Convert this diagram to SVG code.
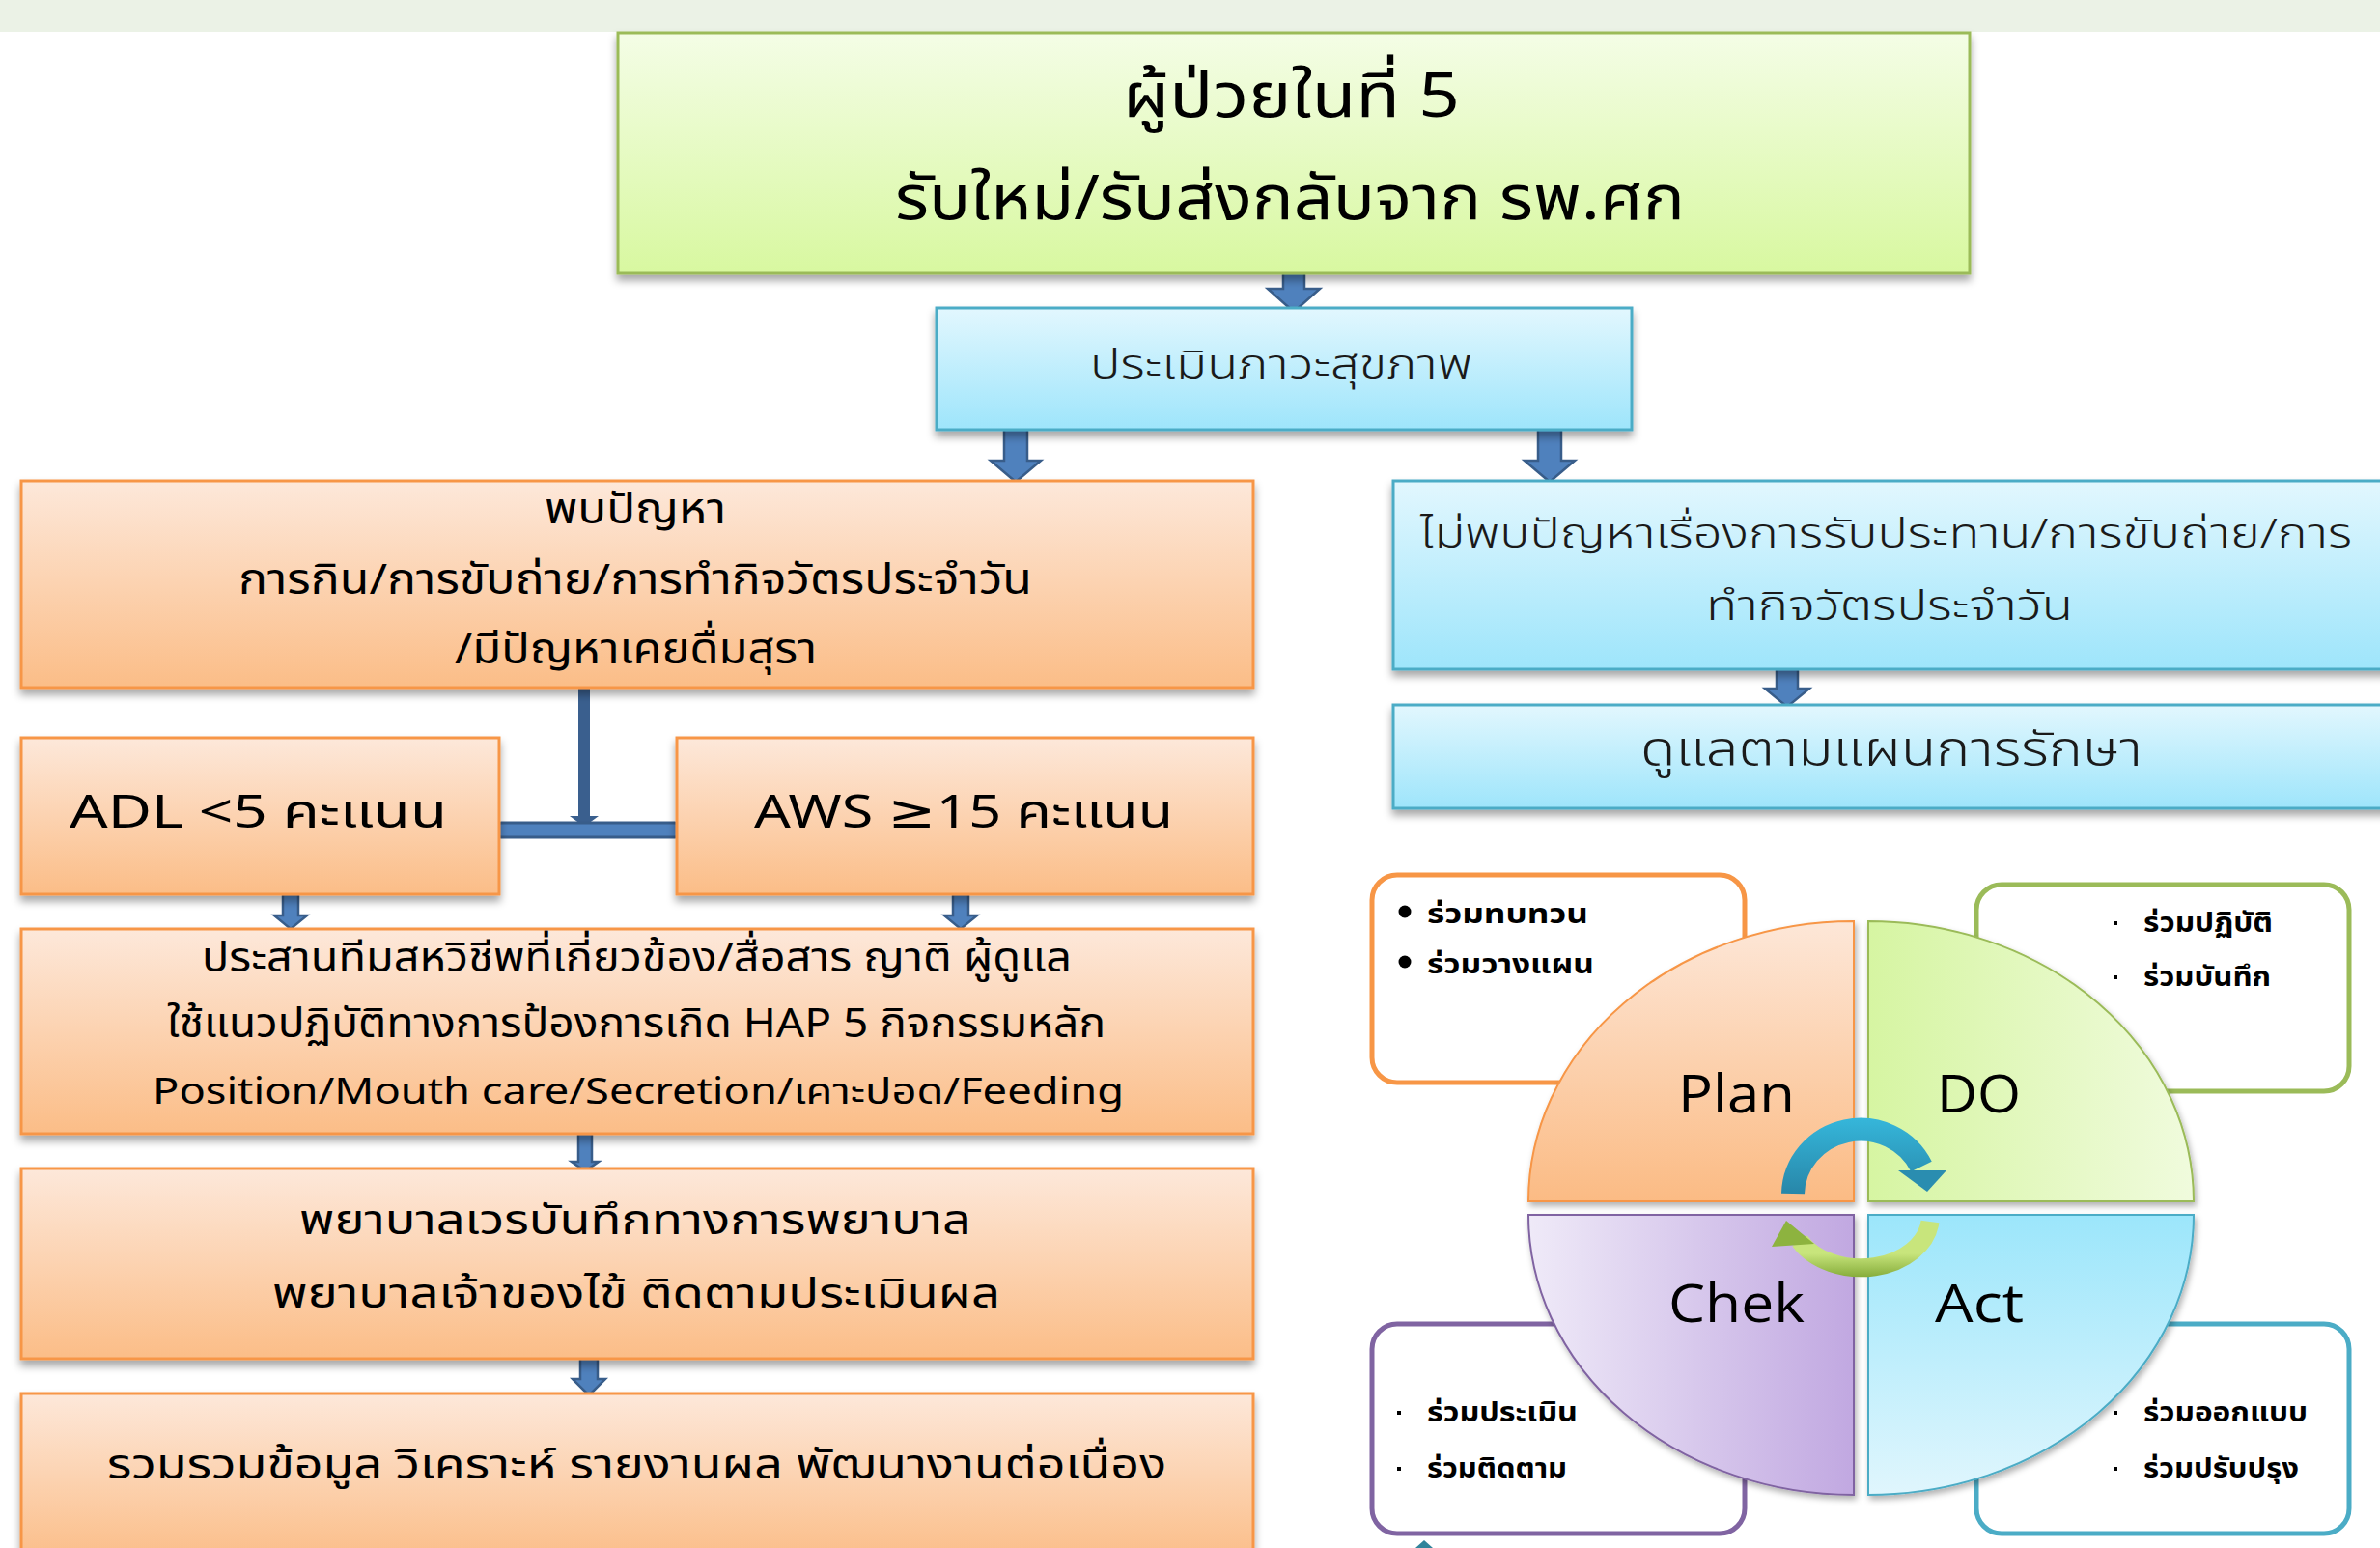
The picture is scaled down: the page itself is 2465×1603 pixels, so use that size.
<svg xmlns="http://www.w3.org/2000/svg" width="2465" height="1603" viewBox="0 0 2465 1603">
<defs>
<linearGradient id="gGreen" x1="0" y1="0" x2="0" y2="1"><stop offset="0" stop-color="#F4FDE6"/><stop offset="1" stop-color="#D8F8A0"/></linearGradient>
<linearGradient id="gBlue" x1="0" y1="0" x2="0" y2="1"><stop offset="0" stop-color="#E2F7FE"/><stop offset="1" stop-color="#9EE5FB"/></linearGradient>
<linearGradient id="gOrange" x1="0" y1="0" x2="0" y2="1"><stop offset="0" stop-color="#FDE8DA"/><stop offset="1" stop-color="#FBBD87"/></linearGradient>
<linearGradient id="qPlan" x1="0" y1="0" x2="0" y2="1"><stop offset="0" stop-color="#FDE7D8"/><stop offset="1" stop-color="#FBBB84"/></linearGradient>
<linearGradient id="qDo" x1="0" y1="0" x2="1" y2="0"><stop offset="0" stop-color="#D6F5A2"/><stop offset="1" stop-color="#F0FBDD"/></linearGradient>
<linearGradient id="qChk" x1="0" y1="0" x2="1" y2="0"><stop offset="0" stop-color="#EFEAF8"/><stop offset="1" stop-color="#C1A8E1"/></linearGradient>
<linearGradient id="qAct" x1="0" y1="0" x2="0" y2="1"><stop offset="0" stop-color="#9CE6FB"/><stop offset="1" stop-color="#E0F6FD"/></linearGradient>
<linearGradient id="arcBlue" gradientUnits="userSpaceOnUse" x1="0" y1="1160" x2="0" y2="1240"><stop offset="0" stop-color="#35B5D9"/><stop offset="1" stop-color="#2784A6"/></linearGradient>
<linearGradient id="arcGreen" gradientUnits="userSpaceOnUse" x1="0" y1="1298" x2="0" y2="1326"><stop offset="0" stop-color="#C8E57C"/><stop offset="1" stop-color="#7CA431"/></linearGradient>
<filter id="sh" x="-5%" y="-10%" width="110%" height="130%"><feDropShadow dx="0" dy="6" stdDeviation="4" flood-color="#000" flood-opacity="0.35"/></filter>
<filter id="sh2" x="-10%" y="-10%" width="120%" height="130%"><feDropShadow dx="2" dy="4" stdDeviation="3" flood-color="#000" flood-opacity="0.3"/></filter>
</defs>
<style>
.th{font-family:'Noto Sans Thai','Noto Sans','DejaVu Sans',sans-serif;fill:#000}
.thin{font-family:'Noto Sans Thai','Noto Sans','DejaVu Sans',sans-serif;fill:#1a1a1a;font-weight:300}
.lat{font-family:'Open Sans','Liberation Sans',sans-serif;fill:#000}
.og{fill:url(#gOrange);stroke:#F79646;stroke-width:3;filter:url(#sh)}
.bl{fill:url(#gBlue);stroke:#4BACC6;stroke-width:3;filter:url(#sh)}
.ar{fill:#4F81BD;stroke:#385D8A;stroke-width:2.5;stroke-linejoin:miter}
.ob{fill:#fff;stroke-width:5}
.bul{font-family:'Noto Sans Thai','Noto Sans','DejaVu Sans',sans-serif;fill:#000;font-weight:700;font-size:29px}
</style>
<rect x="0" y="0" width="2465" height="33" fill="#EBF2E6"/>

<g id="connectors">
<path class="ar" d="M1329,282 H1351 V299 H1367 L1340,323 L1313,299 H1329 Z"/>
<path class="ar" d="M1040,442 H1064 V477 H1078 L1052,499 L1026,477 H1040 Z"/>
<path class="ar" d="M1593,442 H1617 V477 H1631 L1605,499 L1579,477 H1593 Z"/>
<path class="ar" d="M1840,693 H1862 V713 H1874 L1851,732 L1828,713 H1840 Z"/>
<path class="ar" d="M293,926 H309 V948 H318 L301,962 L284,948 H293 Z"/>
<path class="ar" d="M987,926 H1003 V948 H1012 L995,962 L978,948 H987 Z"/>
<path class="ar" d="M599,1174 H613 V1203 H620 L606,1213 L592,1203 H599 Z"/>
<path class="ar" d="M601,1403 H619 V1428 H627 L610,1445 L593,1428 H601 Z"/>
<rect x="599" y="708" width="12" height="140" fill="#3A5F8E"/>
<path d="M590,845 H620 L605,856 Z" fill="#3A5F8E"/>
<rect x="515" y="852" width="188" height="15" rx="4" fill="#4F81BD" stroke="#385D8A" stroke-width="3"/>
<rect x="1069" y="1597" width="37" height="14" rx="5" fill="#31849B"/>
<path d="M1466,1603 L1475,1595 L1484,1603 Z" fill="#31849B"/>
</g>

<g id="n-top">
<rect x="640" y="34" width="1400" height="249" fill="url(#gGreen)" stroke="#9BBB59" stroke-width="3" filter="url(#sh)"/>
<text class="th" x="1163" y="121" font-size="64" textLength="349" lengthAdjust="spacingAndGlyphs">ผู้ป่วยในที่ 5</text>
<text class="th" x="927" y="227" font-size="64" textLength="818" lengthAdjust="spacingAndGlyphs">รับใหม่/รับส่งกลับจาก รพ.ศก</text>
</g>

<g id="n-assess">
<rect class="bl" x="970" y="319" width="720" height="126"/>
<text class="thin" x="1129" y="392" font-size="42" textLength="396" lengthAdjust="spacingAndGlyphs">ประเมินภาวะสุขภาพ</text>
</g>

<g id="n-problem">
<rect class="og" x="22" y="498" width="1276" height="214"/>
<text class="th" x="564" y="542" font-size="44" textLength="188" lengthAdjust="spacingAndGlyphs">พบปัญหา</text>
<text class="th" x="247" y="615" font-size="44" textLength="822" lengthAdjust="spacingAndGlyphs">การกิน/การขับถ่าย/การทำกิจวัตรประจำวัน</text>
<text class="th" x="471" y="687" font-size="44" textLength="375" lengthAdjust="spacingAndGlyphs">/มีปัญหาเคยดื่มสุรา</text>
</g>

<g id="n-adl">
<rect class="og" x="22" y="764" width="495" height="162"/>
<text class="th" x="72" y="857" font-size="48" textLength="391" lengthAdjust="spacingAndGlyphs">ADL &lt;5 คะแนน</text>
</g>

<g id="n-aws">
<rect class="og" x="701" y="764" width="597" height="162"/>
<text class="th" x="781" y="857" font-size="48" textLength="434" lengthAdjust="spacingAndGlyphs">AWS ≥15 คะแนน</text>
</g>

<g id="n-coord">
<rect class="og" x="22" y="962" width="1276" height="212"/>
<text class="th" x="209" y="1006" font-size="42" textLength="901" lengthAdjust="spacingAndGlyphs">ประสานทีมสหวิชีพที่เกี่ยวข้อง/สื่อสาร ญาติ ผู้ดูแล</text>
<text class="th" x="173" y="1074" font-size="42" textLength="972" lengthAdjust="spacingAndGlyphs">ใช้แนวปฏิบัติทางการป้องการเกิด HAP 5 กิจกรรมหลัก</text>
<text class="th" x="158" y="1143" font-size="38" textLength="1006" lengthAdjust="spacingAndGlyphs">Position/Mouth care/Secretion/เคาะปอด/Feeding</text>
</g>

<g id="n-nurse">
<rect class="og" x="22" y="1210" width="1276" height="197"/>
<text class="th" x="310" y="1278" font-size="42" textLength="696" lengthAdjust="spacingAndGlyphs">พยาบาลเวรบันทึกทางการพยาบาล</text>
<text class="th" x="282" y="1354" font-size="42" textLength="754" lengthAdjust="spacingAndGlyphs">พยาบาลเจ้าของไข้ ติดตามประเมินผล</text>
</g>

<g id="n-report">
<rect class="og" x="22" y="1443" width="1276" height="175"/>
<text class="th" x="111" y="1531" font-size="42" textLength="1097" lengthAdjust="spacingAndGlyphs">รวมรวมข้อมูล วิเคราะห์ รายงานผล พัฒนางานต่อเนื่อง</text>
</g>

<g id="n-noproblem">
<rect class="bl" x="1443" y="498" width="1040" height="195"/>
<text class="thin" x="1471" y="567" font-size="42" textLength="965" lengthAdjust="spacingAndGlyphs">ไม่พบปัญหาเรื่องการรับประทาน/การขับถ่าย/การ</text>
<text class="thin" x="1767" y="642" font-size="42" textLength="380" lengthAdjust="spacingAndGlyphs">ทำกิจวัตรประจำวัน</text>
</g>

<g id="n-care">
<rect class="bl" x="1443" y="730" width="1040" height="107"/>
<text class="thin" x="1699" y="793" font-size="50" textLength="520" lengthAdjust="spacingAndGlyphs">ดูแลตามแผนการรักษา</text>
</g>

<g id="n-plan-box">
<rect class="ob" x="1421" y="906" width="386" height="215" rx="26" stroke="#F79646"/>
<circle cx="1455" cy="944" r="6.5" fill="#000"/>
<circle cx="1455" cy="996" r="6.5" fill="#000"/>
<text class="bul" x="1478" y="956" textLength="167" lengthAdjust="spacingAndGlyphs">ร่วมทบทวน</text>
<text class="bul" x="1478" y="1008" textLength="173" lengthAdjust="spacingAndGlyphs">ร่วมวางแผน</text>
</g>

<g id="n-do-box">
<rect class="ob" x="2047" y="916" width="386" height="214" rx="26" stroke="#9BBB59"/>
<rect x="2189" y="954" width="4" height="4" fill="#000"/>
<rect x="2189" y="1010" width="4" height="4" fill="#000"/>
<text class="bul" x="2220" y="965" textLength="134" lengthAdjust="spacingAndGlyphs" font-weight="600">ร่วมปฏิบัติ</text>
<text class="bul" x="2220" y="1021" textLength="132" lengthAdjust="spacingAndGlyphs" font-weight="600">ร่วมบันทึก</text>
</g>

<g id="n-check-box">
<rect class="ob" x="1421" y="1371" width="386" height="217" rx="26" stroke="#8064A2"/>
<rect x="1447" y="1461" width="4" height="4" fill="#000"/>
<rect x="1447" y="1519" width="4" height="4" fill="#000"/>
<text class="bul" x="1478" y="1472" textLength="156" lengthAdjust="spacingAndGlyphs" font-weight="600">ร่วมประเมิน</text>
<text class="bul" x="1478" y="1530" textLength="145" lengthAdjust="spacingAndGlyphs" font-weight="600">ร่วมติดตาม</text>
</g>

<g id="n-act-box">
<rect class="ob" x="2047" y="1371" width="386" height="217" rx="26" stroke="#4BACC6"/>
<rect x="2189" y="1461" width="4" height="4" fill="#000"/>
<rect x="2189" y="1519" width="4" height="4" fill="#000"/>
<text class="bul" x="2220" y="1472" textLength="170" lengthAdjust="spacingAndGlyphs" font-weight="600">ร่วมออกแบบ</text>
<text class="bul" x="2220" y="1530" textLength="161" lengthAdjust="spacingAndGlyphs" font-weight="600">ร่วมปรับปรุง</text>
</g>

<g id="n-plan">
<path d="M1920,1244 L1583,1244 A337,290 0 0 1 1920,954 Z" fill="url(#qPlan)" stroke="#F79646" stroke-width="2" filter="url(#sh2)"/>
<text class="lat" x="1738" y="1152" font-size="54" textLength="121" lengthAdjust="spacingAndGlyphs">Plan</text>
</g>
<g id="n-do">
<path d="M1935,1244 L1935,954 A337,290 0 0 1 2272,1244 Z" fill="url(#qDo)" stroke="#9BBB59" stroke-width="2" filter="url(#sh2)"/>
<text class="lat" x="2006" y="1152" font-size="54" textLength="87" lengthAdjust="spacingAndGlyphs">DO</text>
</g>
<g id="n-check">
<path d="M1920,1258 L1920,1548 A337,290 0 0 1 1583,1258 Z" fill="url(#qChk)" stroke="#8064A2" stroke-width="2" filter="url(#sh2)"/>
<text class="lat" x="1728" y="1369" font-size="54" textLength="141" lengthAdjust="spacingAndGlyphs">Chek</text>
</g>
<g id="n-act">
<path d="M1935,1258 L2272,1258 A337,290 0 0 1 1935,1548 Z" fill="url(#qAct)" stroke="#4BACC6" stroke-width="2" filter="url(#sh2)"/>
<text class="lat" x="2004" y="1369" font-size="54" textLength="92" lengthAdjust="spacingAndGlyphs">Act</text>
</g>

<g id="cycle-arrows">
<path d="M1857,1236 A70,68 0 0 1 1990,1208" fill="none" stroke="url(#arcBlue)" stroke-width="24"/>
<path d="M1966,1212 L2016,1212 L1996,1234 Z" fill="#2A8DB0"/>
<path d="M1999,1265 A72,53 0 0 1 1864,1285" fill="none" stroke="url(#arcGreen)" stroke-width="19"/>
<path d="M1850,1264 L1835,1291 L1879,1288 Z" fill="#8DB33F"/>
</g>
</svg>
